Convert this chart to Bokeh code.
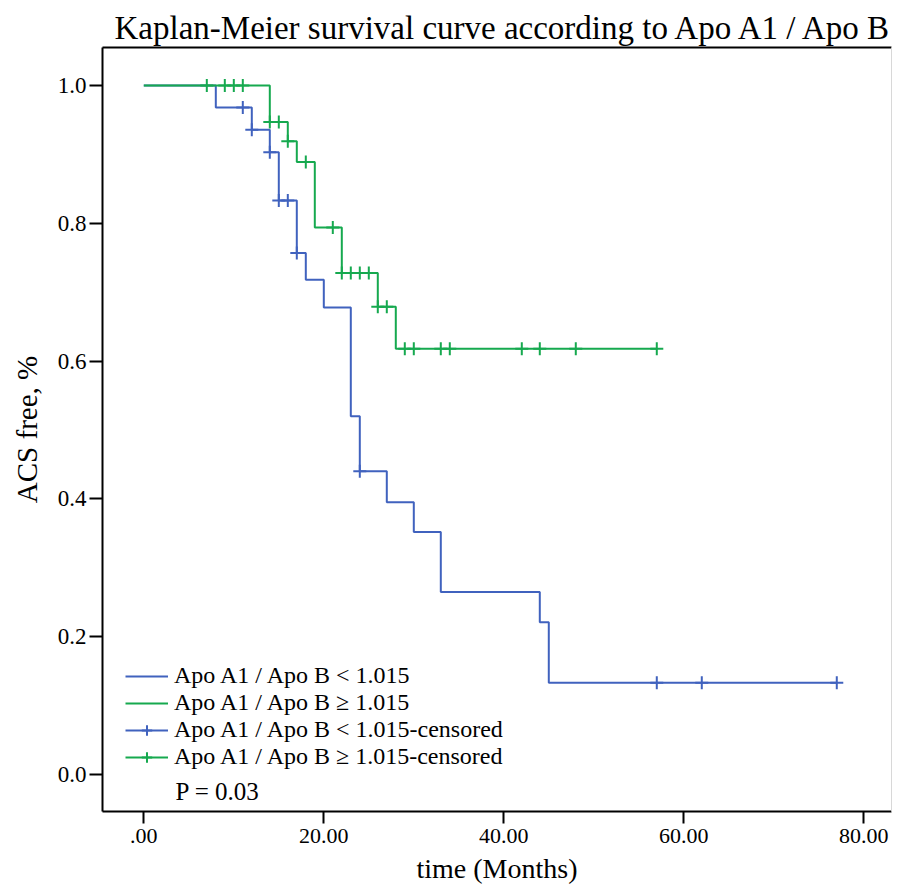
import numpy as np
from bokeh.plotting import figure
from bokeh.models import (Range1d, FixedTicker, LinearAxis, Legend, LegendItem, Label, Title)
from bokeh.embed import file_html
from bokeh.resources import INLINE

# ---- data ----
blue_label = "Apo A1 / Apo B < 1.015"
green_label = "Apo A1 / Apo B \u2265 1.015"

blue_times = [0, 8, 12, 14, 15, 17, 18, 20, 23, 24, 27, 30, 33, 44, 45]
blue_surv = [1.0, 0.968, 0.936, 0.903, 0.833, 0.757, 0.718, 0.678, 0.520, 0.440, 0.395, 0.352, 0.265, 0.221, 0.133]
blue_end = 77
blue_censored = [11, 12, 14, 15, 16, 17, 24, 57, 62, 77]

green_times = [0, 14, 16, 17, 19, 22, 26, 28]
green_surv = [1.0, 0.947, 0.919, 0.889, 0.794, 0.728, 0.679, 0.618]
green_end = 57
green_censored = [7, 9, 10, 11, 14, 15, 16, 18, 21, 22, 23, 24, 25, 26, 27, 29, 30, 33, 34, 42, 44, 48, 57]

x_ticks = [0, 20, 40, 60, 80]
x_tick_labels = [".00", "20.00", "40.00", "60.00", "80.00"]
y_ticks = [0.0, 0.2, 0.4, 0.6, 0.8, 1.0]
y_tick_labels = ["0.0", "0.2", "0.4", "0.6", "0.8", "1.0"]
p_text = "P = 0.03"

BLUE = "#4062be"
GREEN = "#16a94f"
FONT = "Liberation Serif"


def level_at(times, surv, t):
    idx = np.searchsorted(np.asarray(times, dtype=float), np.asarray(t, dtype=float), side="right") - 1
    return np.asarray(surv)[idx]


p = figure(width=893, height=886, output_backend="svg", toolbar_location=None,
           x_range=Range1d(-4.59, 83.08), y_range=Range1d(-0.0537, 1.0552),
           min_border_left=102, min_border_right=2, min_border_top=47, min_border_bottom=75,
           background_fill_color="white", border_fill_color="white")
p.outline_line_color = None
p.xgrid.visible = False
p.ygrid.visible = False

# steps
bx = blue_times + [blue_end]
by = blue_surv + [blue_surv[-1]]
gx = green_times + [green_end]
gy = green_surv + [green_surv[-1]]
r_blue = p.step(bx, by, mode="after", line_color=BLUE, line_width=2)
r_green = p.step(gx, gy, mode="after", line_color=GREEN, line_width=2)

# censored
r_bc = p.scatter(blue_censored, level_at(blue_times, blue_surv, blue_censored).tolist(),
                 marker="cross", size=13, line_color=BLUE, line_width=2)
r_gc = p.scatter(green_censored, level_at(green_times, green_surv, green_censored).tolist(),
                 marker="cross", size=13, line_color=GREEN, line_width=2)

# axes
for ax in (p.xaxis[0], p.yaxis[0]):
    ax.axis_line_width = 2
    ax.axis_line_color = "black"
    ax.major_tick_line_width = 2
    ax.major_tick_line_color = "black"
    ax.minor_tick_out = 0
    ax.minor_tick_in = 0
    ax.major_tick_in = 0
    ax.major_label_text_font = FONT
    ax.major_label_text_color = "black"
    ax.axis_label_text_font = FONT
    ax.axis_label_text_font_style = "normal"
    ax.axis_label_text_color = "black"

p.yaxis.major_tick_out = 13
p.yaxis.major_label_text_font_size = "23px"
p.xaxis.major_tick_out = 12
p.xaxis.major_label_text_font_size = "22px"

p.xaxis.ticker = FixedTicker(ticks=x_ticks)
p.xaxis.major_label_overrides = {t: l for t, l in zip(x_ticks, x_tick_labels)}
p.yaxis.ticker = FixedTicker(ticks=y_ticks)
p.yaxis.major_label_overrides = {t: l for t, l in zip(y_ticks, y_tick_labels)}
p.yaxis.axis_label = "ACS free, %"
p.yaxis.axis_label_text_font_size = "29px"
p.xaxis.axis_label = "time (Months)"
p.xaxis.axis_label_text_font_size = "28px"
p.xaxis.major_label_standoff = 5
p.yaxis.major_label_standoff = 3
p.yaxis.axis_label_standoff = 12
p.xaxis.axis_label_standoff = 7

# top and right frame lines
top_ax = LinearAxis(ticker=FixedTicker(ticks=[]), axis_line_width=2, axis_line_color="black",
                    major_tick_out=0, minor_tick_out=0, major_label_text_font_size="0px")
right_ax = LinearAxis(ticker=FixedTicker(ticks=[]), axis_line_width=1, axis_line_color="#d8d8d8",
                      major_tick_out=0, minor_tick_out=0, major_label_text_font_size="0px")
p.add_layout(top_ax, "above")
p.add_layout(right_ax, "right")

p.title = Title(text="Kaplan-Meier survival curve according to Apo A1 / Apo B",
                text_font=FONT, text_font_size="33px", text_font_style="normal",
                text_color="black", align="left", offset=12, standoff=4)

legend = Legend(items=[
    LegendItem(label=blue_label, renderers=[r_blue]),
    LegendItem(label=green_label, renderers=[r_green]),
    LegendItem(label=blue_label + "-censored", renderers=[r_blue, r_bc]),
    LegendItem(label=green_label + "-censored", renderers=[r_green, r_gc]),
], location=(23, 41))
legend.background_fill_alpha = 0
legend.border_line_color = None
legend.label_text_font = FONT
legend.label_text_font_size = "24px"
legend.label_text_color = "black"
legend.glyph_width = 43
legend.glyph_height = 26
legend.label_height = 26
legend.spacing = 0
legend.padding = 0
legend.margin = 0
legend.label_standoff = 6
p.add_layout(legend)

p.add_layout(Label(x=3.52, y=-0.024, text=p_text, text_font=FONT, text_font_size="25px",
                   text_baseline="middle", text_color="black"))

open("out.html", "w").write(file_html(p, INLINE))
